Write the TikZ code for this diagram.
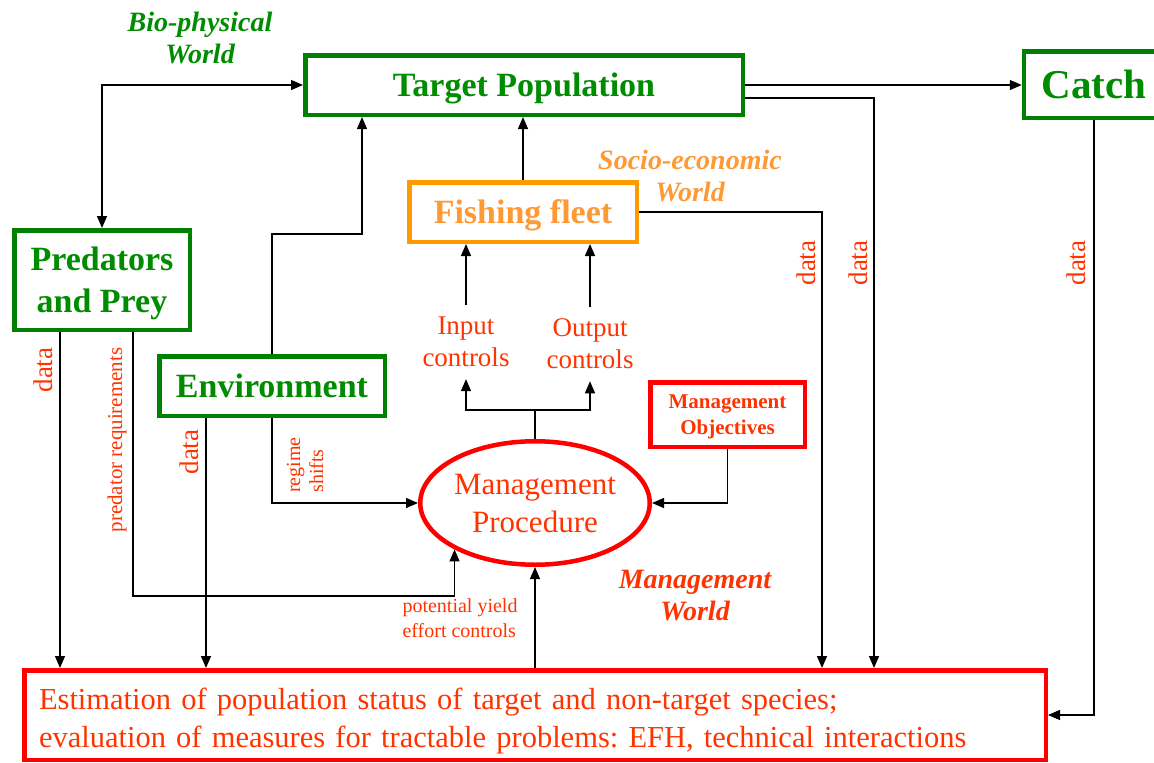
\documentclass[tikz,border=0pt]{standalone}
\usepackage{fontspec}
\setmainfont{Liberation Serif}
\usepackage{tikz}
\usetikzlibrary{arrows.meta,shapes.geometric}

\definecolor{bioline}{RGB}{0,128,0}
\definecolor{biotext}{RGB}{0,140,0}
\definecolor{fleetline}{RGB}{255,153,0}
\definecolor{fleettext}{RGB}{255,153,51}
\definecolor{mgmtline}{RGB}{255,0,0}
\definecolor{mgmttext}{RGB}{255,51,0}

\frenchspacing

\begin{document}
\begin{tikzpicture}[
  x=1pt, y=-1pt,
  box/.style={draw, line width=4.5pt, inner sep=0pt, align=center},
  bio/.style={box, draw=bioline, text=biotext, text depth=0pt, font=\fontsize{34}{42}\selectfont\bfseries},
  mgmt/.style={box, draw=mgmtline, text=mgmttext},
  arr/.style={-{Triangle[length=12pt,width=10pt]}, line width=1.3pt},
  lbl/.style={text=mgmttext, inner sep=0pt, align=left},
  data/.style={lbl, rotate=90, font=\fontsize{27}{32}\selectfont},
  world/.style={align=center, inner sep=0pt, font=\fontsize{28}{32}\selectfont\bfseries\itshape}
]
  \useasboundingbox (0,0) rectangle (1154,763);

  % boxes
  \node[bio, minimum width=437.5pt, minimum height=59.5pt] (tp) at (524,85) {Target Population};
  \node[bio, minimum width=140pt, minimum height=66.5pt, font=\fontsize{41}{48}\selectfont\bfseries] (catch) at (1094,84.5) {Catch};
  \node[box, draw=fleetline, text=fleettext, text depth=0pt, font=\fontsize{34}{42}\selectfont\bfseries,
        minimum width=227.5pt, minimum height=59.5pt] (fleet) at (523,212) {Fishing fleet};
  \node[bio, minimum width=175.5pt, minimum height=99.5pt] (pp) at (102,280) {Predators\\and Prey};
  \node[bio, minimum width=225.5pt, minimum height=59.5pt] (env) at (272,386) {Environment};
  \node[mgmt, text depth=0pt, font=\fontsize{21}{26}\selectfont\bfseries, minimum width=154.5pt,
        minimum height=64.5pt] (mo) at (727.5,414.5) {Management\\Objectives};
  \node[ellipse, draw=mgmtline, line width=4.5pt, inner sep=0pt, text=mgmttext, align=center,
        font=\fontsize{31}{38}\selectfont, minimum width=229.5pt, minimum height=123.5pt] (mp) at (535,503) {Management\\Procedure};
  \node[mgmt, font=\fontsize{30.5}{38}\selectfont, text width=992pt, align=left, inner xsep=14.75pt,
        text depth=33pt, minimum height=89.5pt] (est) at (535,715)
        {Estimation of population status of target and non-target species;\\evaluation of measures for tractable problems: EFH, technical interactions};

  % controls
  \node[lbl, align=center, inner ysep=12pt, font=\fontsize{27}{32}\selectfont] (ic) at (466,342) {Input\\controls};
  \node[lbl, align=center, inner ysep=12pt, font=\fontsize{27}{32}\selectfont] (oc) at (590,344) {Output\\controls};

  % worlds
  \node[world, text=biotext] (bioworld) at (200,38) {Bio-physical\\World};
  \node[world, text=fleettext] (socworld) at (690,176) {Socio-economic\\World};
  \node[world, text=mgmttext] (mgmtworld) at (695,596) {Management\\World};

  % labels
  \node[data] (ppdata) at (43,370) {data};
  \node[data] (envdata) at (189,452) {data};
  \node[data] (fleetdata) at (806,263) {data};
  \node[data] (tpdata) at (858,263) {data};
  \node[data] (catchdata) at (1076,263) {data};
  \node[lbl, rotate=90, font=\fontsize{21}{25}\selectfont] (predreq) at (117,440) {predator requirements};
  \node[lbl, rotate=90, font=\fontsize{20}{23}\selectfont] (regime) at (305,465) {regime\\shifts};
  \node[lbl, font=\fontsize{20}{25}\selectfont] (potyield) at (460,618) {potential yield\\effort controls};

  % guides
  \coordinate (tpx) at (874,98);
  \coordinate (envtp) at (362,234);
  \coordinate (fltx) at (822,212);
  \coordinate (ppd) at (60,500);
  \coordinate (prq) at (133,596);
  \coordinate (envd) at (206,500);
  \coordinate (split) at (535,410);

  % connectors
  \draw[arr, {Triangle[length=12pt,width=10pt]}-{Triangle[length=12pt,width=10pt]}] (pp.north) |- (tp.west);
  \draw[arr] (tp.east) -- (tp.east -| catch.west);
  \draw[arr] (tp.east |- tpx) -- (tpx) -- (tpx |- est.north);
  \draw[arr] (env.north) |- (envtp) -- (envtp |- tp.south);
  \draw[arr] (fleet.north) -- (fleet.north |- tp.south);
  \draw[arr] (fleet.east) -- (fltx) -- (fltx |- est.north);
  \draw[arr] (ic.north) -- (ic.north |- fleet.south);
  \draw[arr] (oc.north) -- (oc.north |- fleet.south);
  \draw[line width=1.3pt] (mp.north) -- (split);
  \draw[arr] (split) -| (ic.south);
  \draw[arr] (split) -| (oc.south);
  \draw[arr] (mo.south) |- (mp.east);
  \draw[arr] (env.south) |- (mp.west);
  \draw[arr] (env.south -| envd) -- (envd |- est.north);
  \draw[arr] (pp.south -| ppd) -- (ppd |- est.north);
  \draw[arr] (pp.south -| prq) -- (prq) -| (mp.-150);
  \draw[arr] (est.north) -- (mp.south);
  \draw[arr] (catch.south) |- (est.east);
\end{tikzpicture}
\end{document}
